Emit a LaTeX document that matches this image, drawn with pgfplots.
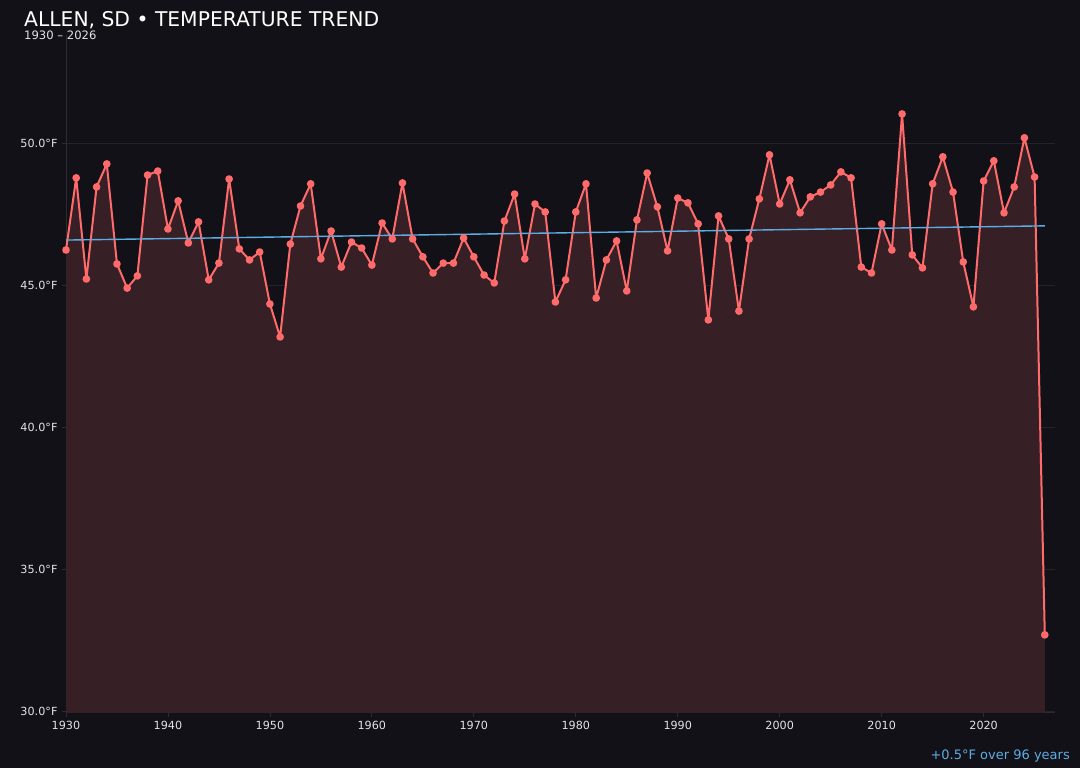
\documentclass[border=0pt]{standalone}
\usepackage{pgfplots}
\pgfplotsset{compat=1.18}
\usepackage{fontspec}
\setmainfont{DejaVu Sans}

\definecolor{bg}{RGB}{18,17,23}
\definecolor{fillred}{RGB}{55,31,38}
\definecolor{linered}{RGB}{255,107,107}
\definecolor{trendblue}{RGB}{93,173,226}
\definecolor{gridc}{RGB}{36,34,42}
\definecolor{spinec}{RGB}{44,43,50}
\definecolor{txt}{RGB}{226,226,230}

\pgfplotstableread{
year temp
1930 46.23
1931 48.77
1932 45.21
1933 48.45
1934 49.26
1935 45.74
1936 44.89
1937 45.32
1938 48.87
1939 49.01
1940 46.97
1941 47.96
1942 46.48
1943 47.22
1944 45.18
1945 45.77
1946 48.73
1947 46.27
1948 45.88
1949 46.16
1950 44.33
1951 43.17
1952 46.44
1953 47.78
1954 48.56
1955 45.92
1956 46.90
1957 45.63
1958 46.51
1959 46.30
1960 45.70
1961 47.18
1962 46.62
1963 48.59
1964 46.62
1965 45.99
1966 45.42
1967 45.77
1968 45.77
1969 46.65
1970 45.99
1971 45.35
1972 45.07
1973 47.25
1974 48.20
1975 45.92
1976 47.85
1977 47.57
1978 44.40
1979 45.18
1980 47.57
1981 48.56
1982 44.54
1983 45.88
1984 46.55
1985 44.79
1986 47.29
1987 48.94
1988 47.75
1989 46.20
1990 48.06
1991 47.89
1992 47.15
1993 43.77
1994 47.43
1995 46.62
1996 44.08
1997 46.62
1998 48.03
1999 49.58
2000 47.85
2001 48.70
2002 47.54
2003 48.10
2004 48.27
2005 48.52
2006 48.98
2007 48.77
2008 45.63
2009 45.42
2010 47.15
2011 46.23
2012 51.02
2013 46.06
2014 45.60
2015 48.56
2016 49.51
2017 48.27
2018 45.81
2019 44.23
2020 48.66
2021 49.37
2022 47.54
2023 48.45
2024 50.18
2025 48.80
2026 32.68
}\temps

\begin{document}
\begin{tikzpicture}[x=1pt,y=1pt]
\fill[bg] (0,0) rectangle (1080,768);
\useasboundingbox (0,0) rectangle (1080,768);

\begin{axis}[
    at={(66pt,55pt)}, anchor=south west,
    scale only axis,
    width=989pt, height=678pt,
    xmin=1930, xmax=2027,
    ymin=29.93, ymax=53.80,
    xtick={1930,1940,...,2020},
    ytick={30,35,...,50},
    axis x line*=bottom, axis y line*=left,
    axis line style={spinec, line width=1pt},
    every outer x axis line/.append style={-},
    every outer y axis line/.append style={-},
    tick style={spinec, line width=0.8pt},
    major tick length=4pt,
    tick align=outside,
    ymajorgrids,
    grid style={gridc, line width=0.8pt},
    /pgf/number format/assume math mode=true,
    ticklabel style={font=\fontsize{11.2}{13}\selectfont, text=txt},
    xticklabel={\pgfmathprintnumber[1000 sep={}]{\tick}},
    yticklabel={\pgfmathprintnumber[fixed,fixed zerofill,precision=1]{\tick}°F},
    xticklabel style={yshift=-1pt},
    yticklabel style={xshift=-1pt},
    clip=false,
]
\addplot[draw=none, fill=fillred] table[x=year,y=temp]{\temps} \closedcycle;
\addplot[linered, line width=2pt, line join=round, mark=*, mark size=2.8pt,
    mark options={solid, fill=linered, draw=none}] table[x=year,y=temp]{\temps};
\addplot[trendblue, line width=1.4pt] coordinates {(1930,46.58) (2026,47.08)};
\end{axis}

\node[anchor=base west, text=white, font=\fontsize{20.3}{24}\selectfont, inner sep=0pt] at (24,741) {ALLEN, SD • TEMPERATURE TREND};
\node[anchor=base west, text=txt, font=\fontsize{11.6}{13}\selectfont, inner sep=0pt] at (24,728.5) {1930 – 2026};
\node[anchor=base east, text=trendblue, font=\fontsize{13}{15}\selectfont, inner sep=0pt] at (1070,8) {+0.5°F over 96 years};
\end{tikzpicture}
\end{document}
